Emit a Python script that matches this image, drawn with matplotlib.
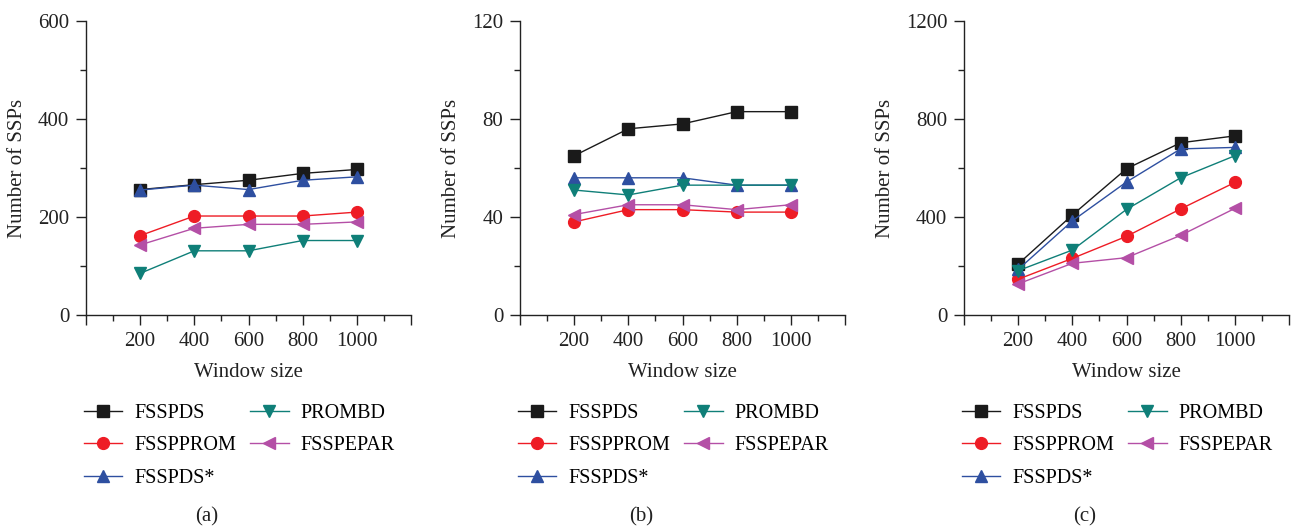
import matplotlib.pyplot as plt
from matplotlib.ticker import MultipleLocator, FixedLocator, FixedFormatter

plt.rcParams['font.family'] = ['Liberation Serif', 'DejaVu Serif']

window = [200, 400, 600, 800, 1000]
names = ['FSSPDS', 'FSSPPROM', 'FSSPDS*', 'PROMBD', 'FSSPEPAR']

# panel (a)
a_fsspds = [256, 266, 275, 289, 297]
a_fssprom = [162, 202, 202, 202, 210]
a_fsspds_star = [255, 265, 256, 275, 282]
a_prombd = [85, 131, 131, 152, 152]
a_fsspepar = [143, 177, 185, 185, 190]

# panel (b)
b_fsspds = [65, 76, 78, 83, 83]
b_fssprom = [38, 43, 43, 42, 42]
b_fsspds_star = [56, 56, 56, 53, 53]
b_prombd = [51, 49, 53, 53, 53]
b_fsspepar = [41, 45, 45, 43, 45]

# panel (c)
c_fsspds = [208, 408, 597, 703, 731]
c_fssprom = [146, 231, 321, 433, 541]
c_fsspds_star = [186, 384, 543, 678, 684]
c_prombd = [181, 265, 431, 560, 650]
c_fsspepar = [127, 211, 234, 325, 435]

colors = ['#1a1a1a', '#ee1c25', '#2e4fa0', '#0f7f78', '#b44fa6']
markers = ['s', 'o', '^', 'v', '<']

panels = [
    ([a_fsspds, a_fssprom, a_fsspds_star, a_prombd, a_fsspepar], 600, 200, '(a)'),
    ([b_fsspds, b_fssprom, b_fsspds_star, b_prombd, b_fsspepar], 120, 40, '(b)'),
    ([c_fsspds, c_fssprom, c_fsspds_star, c_prombd, c_fsspepar], 1200, 400, '(c)'),
]

W, H = 1293, 528
fig = plt.figure(figsize=(W / 100, H / 100), dpi=100)
lefts = [86, 520, 964]
aw = 325
top, bottom = 21, 315
txt = '#222222'

for left, (series, ymax, ystep, cap) in zip(lefts, panels):
    ax = fig.add_axes([left / W, 1 - bottom / H, aw / W, (bottom - top) / H])
    for s, c, m, n in zip(series, colors, markers, names):
        ax.plot(window, s, color=c, marker=m, markersize=8.5, linewidth=1.0, label=n)
    ax.set_xlim(0, 1200)
    ax.set_ylim(0, ymax)
    ax.xaxis.set_major_locator(FixedLocator([0, 200, 400, 600, 800, 1000, 1200]))
    ax.xaxis.set_major_formatter(FixedFormatter(['', '200', '400', '600', '800', '1000', '']))
    ax.xaxis.set_minor_locator(MultipleLocator(100))
    ax.yaxis.set_major_locator(MultipleLocator(ystep))
    ax.yaxis.set_minor_locator(MultipleLocator(ystep / 2))
    ax.spines['top'].set_visible(False)
    ax.spines['right'].set_visible(False)
    for sp in ['left', 'bottom']:
        ax.spines[sp].set_linewidth(1.0)
        ax.spines[sp].set_color(txt)
    ax.tick_params(which='major', direction='out', length=7, width=1, labelsize=15,
                   colors=txt, pad=5)
    ax.tick_params(which='minor', direction='out', length=4, width=1, colors=txt)
    ax.set_xlabel('Window size', fontsize=15, color=txt, labelpad=9)
    ax.set_ylabel('Number of SSPs', fontsize=15, color=txt, labelpad=8)
    ax.legend(loc='upper left', bbox_to_anchor=((left - 2) / W, 1 - 404 / H),
              bbox_transform=fig.transFigure, ncol=2, frameon=False, fontsize=14.5,
              handlelength=1.9, handletextpad=0.6, columnspacing=0.7,
              labelspacing=0.66, borderaxespad=0, borderpad=0)
    fig.text((left + 121) / W, 1 - 517 / H, cap, ha='center', va='center',
             fontsize=15, color=txt)

fig.savefig('out.png', dpi=100)
